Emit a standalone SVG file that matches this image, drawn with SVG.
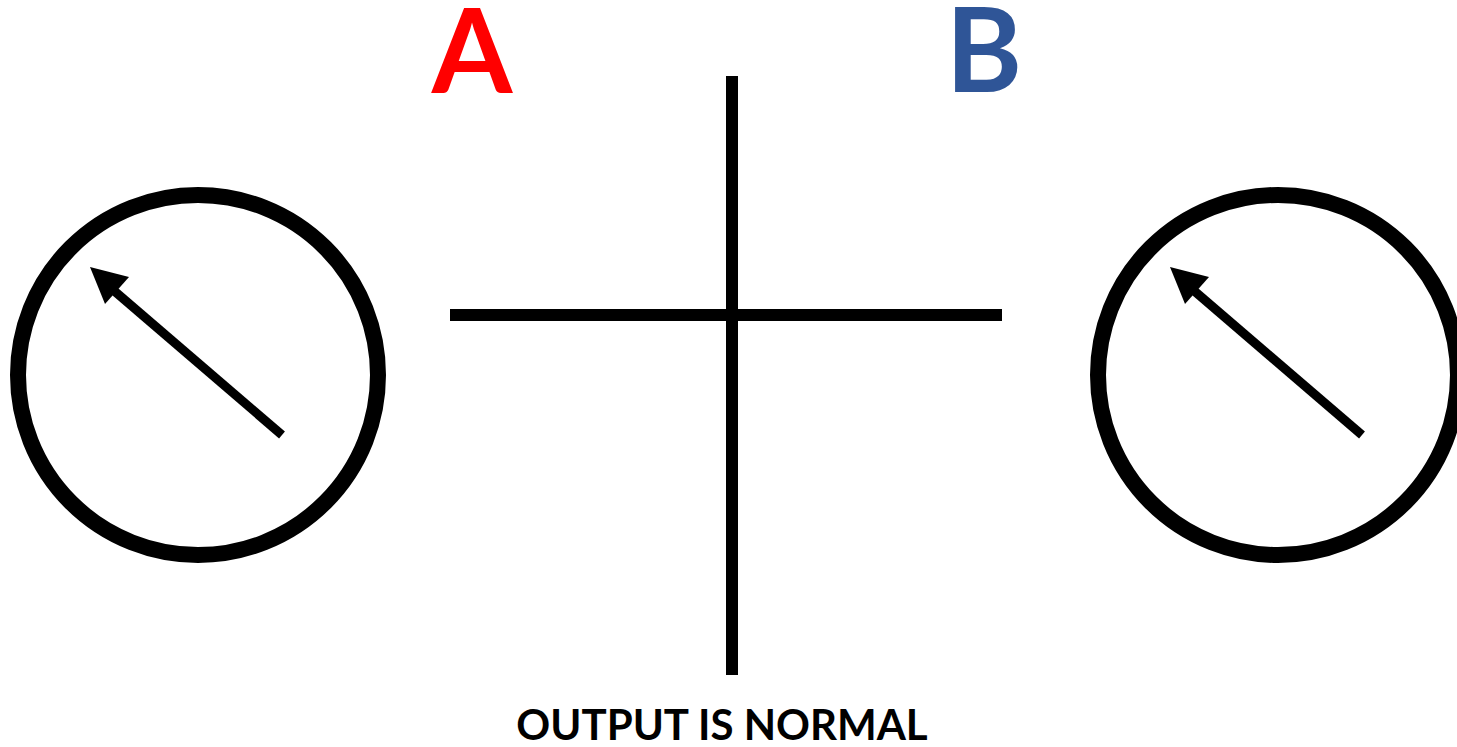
<svg xmlns="http://www.w3.org/2000/svg" width="1457" height="747" viewBox="0 0 1457 747">
<style>
.ring{fill:none;stroke:#000;stroke-width:16}
.needle{stroke:#000;stroke-width:9;fill:none}
.head{fill:#000}
.axis{stroke:#000;stroke-width:12}
.lbl{font-family:Lato,"Open Sans","Liberation Sans",sans-serif;font-weight:bold}
</style>
<rect width="1457" height="747" fill="#fff"/>
<g id="dial-a">
<circle class="ring" cx="198" cy="375" r="180"/>
<line class="needle" x1="282" y1="435" x2="112" y2="289"/>
<polygon class="head" points="90,267 129,277 105,304"/>
</g>
<g id="dial-b">
<circle class="ring" cx="1278" cy="375" r="180"/>
<line class="needle" x1="1362" y1="435" x2="1192" y2="289"/>
<polygon class="head" points="1170,267 1209,277 1185,304"/>
</g>
<g id="connectors">
<line class="axis" x1="732" y1="76" x2="732" y2="675"/>
<line class="axis" x1="450" y1="315" x2="1002" y2="315"/>
</g>
<g id="label-a"><text class="lbl" x="472" y="93" font-size="116" fill="#FF0000" text-anchor="middle">A</text></g>
<g id="label-b"><text class="lbl" x="984" y="92" font-size="116" fill="#2F5597" text-anchor="middle">B</text></g>
<g id="caption"><text class="lbl" x="722" y="740" font-size="42" fill="#000" text-anchor="middle">OUTPUT IS NORMAL</text></g>
</svg>
